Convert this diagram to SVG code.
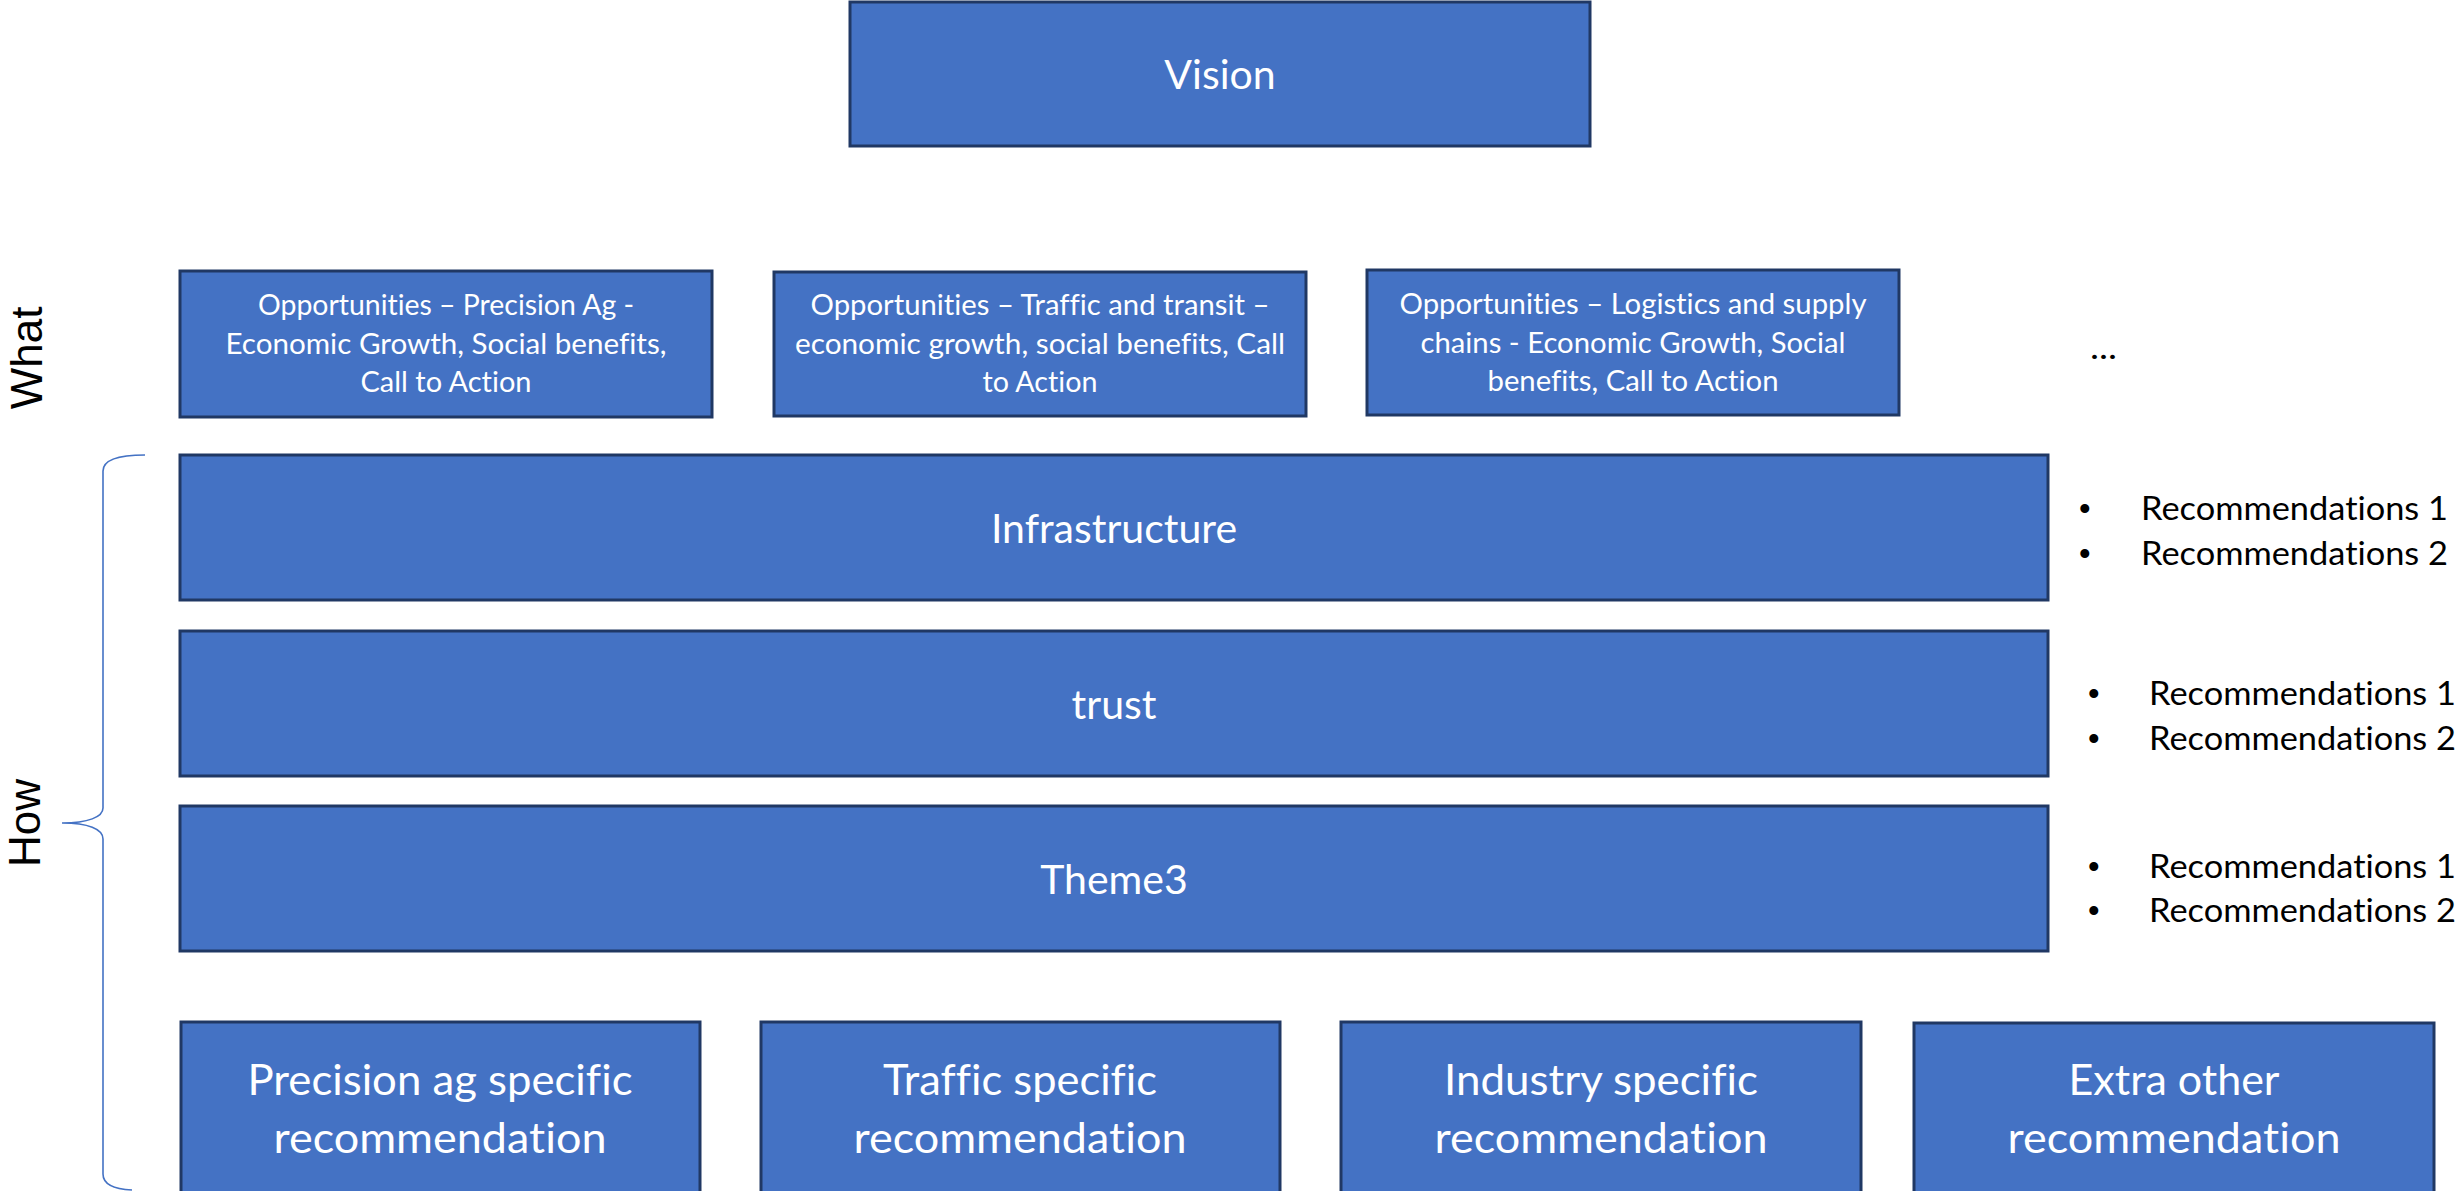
<svg xmlns="http://www.w3.org/2000/svg" width="2458" height="1191" viewBox="0 0 2458 1191">
<style>
text{font-variant-ligatures:none;font-feature-settings:"liga" 0,"clig" 0}
.box{fill:#4472C4;stroke:#203864;stroke-width:3}
.wt{fill:#FFFFFF;font-family:Lato,"Open Sans",sans-serif;text-anchor:middle}
.big{font-size:41px}
.opp{font-size:28.5px}
.bot{font-size:42px}
.side{fill:#000000;font-family:"Liberation Sans",Arial,sans-serif;font-size:44px;text-anchor:middle}
.rec{fill:#000000;font-family:Lato,"Open Sans",sans-serif;font-size:33px}
.bul{fill:#000000;font-family:"Liberation Sans",Arial,sans-serif;font-size:33px}
.brace{fill:none;stroke:#4472C4;stroke-width:1.6}
</style>
<rect width="2458" height="1191" fill="#FFFFFF"/>

<g id="vision">
<rect class="box" x="850" y="2" width="740" height="144"/>
<text class="wt big" x="1220" y="89">Vision</text>
</g>

<g id="label-what">
<text class="side" transform="translate(42,358) rotate(-90)">What</text>
</g>
<g id="label-how">
<text class="side" transform="translate(40,823) rotate(-90)">How</text>
</g>

<g id="opp-precision-ag">
<rect class="box" x="180" y="271" width="532" height="146"/>
<text class="wt opp" x="446" y="315" textLength="376" lengthAdjust="spacingAndGlyphs">Opportunities – Precision Ag -</text>
<text class="wt opp" x="446" y="354" textLength="441" lengthAdjust="spacingAndGlyphs">Economic Growth, Social benefits,</text>
<text class="wt opp" x="446" y="392" textLength="171" lengthAdjust="spacingAndGlyphs">Call to Action</text>
</g>

<g id="opp-traffic">
<rect class="box" x="774" y="272" width="532" height="144"/>
<text class="wt opp" x="1040" y="315" textLength="459" lengthAdjust="spacingAndGlyphs">Opportunities – Traffic and transit –</text>
<text class="wt opp" x="1040" y="354" textLength="490" lengthAdjust="spacingAndGlyphs">economic growth, social benefits, Call</text>
<text class="wt opp" x="1040" y="392" textLength="115" lengthAdjust="spacingAndGlyphs">to Action</text>
</g>

<g id="opp-logistics">
<rect class="box" x="1367" y="270" width="532" height="145"/>
<text class="wt opp" x="1633" y="314" textLength="467" lengthAdjust="spacingAndGlyphs">Opportunities – Logistics and supply</text>
<text class="wt opp" x="1633" y="353" textLength="425" lengthAdjust="spacingAndGlyphs">chains - Economic Growth, Social</text>
<text class="wt opp" x="1633" y="391" textLength="291" lengthAdjust="spacingAndGlyphs">benefits, Call to Action</text>
</g>

<g id="ellipsis">
<text class="rec" x="2090" y="359" font-size="37" textLength="27" lengthAdjust="spacingAndGlyphs">...</text>
</g>

<g id="infrastructure">
<rect class="box" x="180" y="455" width="1868" height="145"/>
<text class="wt big" x="1114" y="543">Infrastructure</text>
</g>
<g id="infrastructure-recs">
<text class="bul" x="2079" y="520">•</text>
<text class="rec" x="2141" y="520" textLength="307" lengthAdjust="spacingAndGlyphs">Recommendations 1</text>
<text class="bul" x="2079" y="565">•</text>
<text class="rec" x="2141" y="565" textLength="307" lengthAdjust="spacingAndGlyphs">Recommendations 2</text>
</g>

<g id="trust">
<rect class="box" x="180" y="631" width="1868" height="145"/>
<text class="wt big" x="1114" y="719">trust</text>
</g>
<g id="trust-recs">
<text class="bul" x="2088" y="705">•</text>
<text class="rec" x="2149" y="705" textLength="307" lengthAdjust="spacingAndGlyphs">Recommendations 1</text>
<text class="bul" x="2088" y="750">•</text>
<text class="rec" x="2149" y="750" textLength="307" lengthAdjust="spacingAndGlyphs">Recommendations 2</text>
</g>

<g id="theme3">
<rect class="box" x="180" y="806" width="1868" height="145"/>
<text class="wt big" x="1114" y="894">Theme3</text>
</g>
<g id="theme3-recs">
<text class="bul" x="2088" y="878">•</text>
<text class="rec" x="2149" y="878" textLength="307" lengthAdjust="spacingAndGlyphs">Recommendations 1</text>
<text class="bul" x="2088" y="922">•</text>
<text class="rec" x="2149" y="922" textLength="307" lengthAdjust="spacingAndGlyphs">Recommendations 2</text>
</g>

<g id="precision-ag-rec">
<rect class="box" x="181" y="1022" width="519" height="190"/>
<text class="wt bot" x="440" y="1095" textLength="385" lengthAdjust="spacingAndGlyphs">Precision ag specific</text>
<text class="wt bot" x="440" y="1153" textLength="333" lengthAdjust="spacingAndGlyphs">recommendation</text>
</g>
<g id="traffic-rec">
<rect class="box" x="761" y="1022" width="519" height="190"/>
<text class="wt bot" x="1020" y="1095" textLength="274" lengthAdjust="spacingAndGlyphs">Traffic specific</text>
<text class="wt bot" x="1020" y="1153" textLength="333" lengthAdjust="spacingAndGlyphs">recommendation</text>
</g>
<g id="industry-rec">
<rect class="box" x="1341" y="1022" width="520" height="190"/>
<text class="wt bot" x="1601" y="1095" textLength="314" lengthAdjust="spacingAndGlyphs">Industry specific</text>
<text class="wt bot" x="1601" y="1153" textLength="333" lengthAdjust="spacingAndGlyphs">recommendation</text>
</g>
<g id="extra-rec">
<rect class="box" x="1914" y="1023" width="520" height="190"/>
<text class="wt bot" x="2174" y="1095" textLength="211" lengthAdjust="spacingAndGlyphs">Extra other</text>
<text class="wt bot" x="2174" y="1153" textLength="333" lengthAdjust="spacingAndGlyphs">recommendation</text>
</g>

<g id="connectors">
<path class="brace" d="M145,455 C115,455 103,461 103,471 L103,808 C103,817 88,823 62,823 C88,823 103,829 103,839 L103,1174 C103,1184 112,1189 132,1190"/>
</g>
</svg>
